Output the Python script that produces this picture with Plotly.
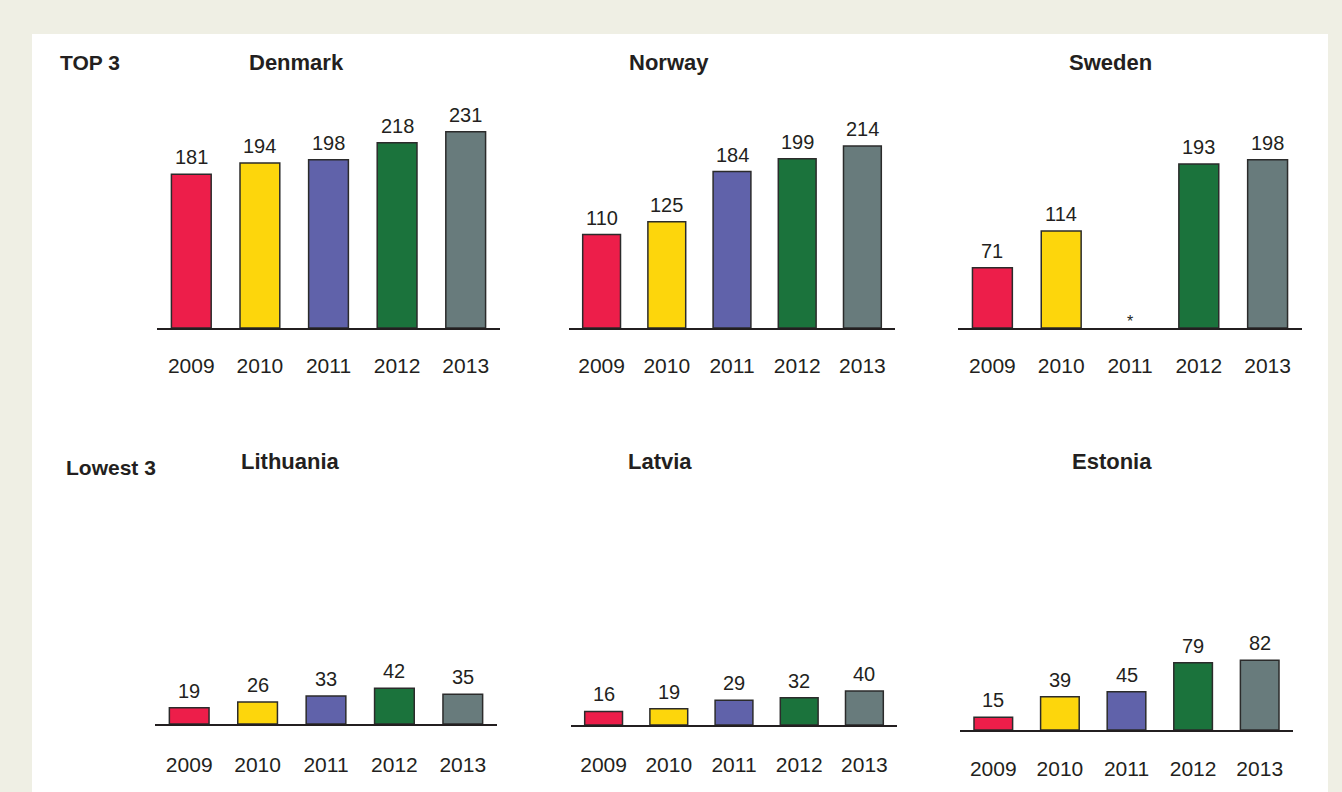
import plotly.graph_objects as go

W, H = 1342, 792

years = ["2009", "2010", "2011", "2012", "2013"]
colors = ["#ED1E4A", "#FDD60C", "#6062AA", "#1B733C", "#687B7C"]

countries = ["Denmark", "Norway", "Sweden", "Lithuania", "Latvia", "Estonia"]
denmark = [181, 194, 198, 218, 231]
norway = [110, 125, 184, 199, 214]
sweden = [71, 114, None, 193, 198]
lithuania = [19, 26, 33, 42, 35]
latvia = [16, 19, 29, 32, 40]
estonia = [15, 39, 45, 79, 82]
values = [denmark, norway, sweden, lithuania, latvia, estonia]

# pixel layout of each panel: x-axis start/end, baseline y, tick label gap
panels = [
    (157, 500, 328, 18), (569, 895, 328, 18), (958, 1302, 328, 18),
    (155, 497, 724, 21), (571, 897, 725, 20), (960, 1293, 730, 19),
]
px_per_unit = 0.85
y_max = 250
title_pos = [(296, 62), (669, 62), (1110, 62), (290, 461), (660, 461), (1112, 461)]

INK = "#231F20"
FONT = "Liberation Sans, Arial, sans-serif"


def fx(p):
    return p / W


def fy(p):
    return 1 - p / H


fig = go.Figure()
layout = {}
for i, (name, vals) in enumerate(zip(countries, values)):
    n = "" if i == 0 else str(i + 1)
    x0, x1, base, gap = panels[i]
    top = base - y_max * px_per_unit
    fig.add_trace(go.Bar(
        x=years, y=vals, xaxis="x" + n, yaxis="y" + n,
        marker=dict(color=colors, line=dict(color="#2B2B2B", width=1.5)),
        width=0.58, hoverinfo="x+y", showlegend=False,
    ))
    # value labels (category axis: annotation x is the category index)
    for j, v in enumerate(vals):
        if v is None:
            continue
        fig.add_annotation(x=j, y=v, xref="x" + n, yref="y" + n, text=str(v),
                           showarrow=False, yanchor="bottom", yshift=4,
                           font=dict(size=20, color=INK, family=FONT))
    layout["xaxis" + n] = dict(
        domain=[fx(x0), fx(x1)], anchor="y" + n, type="category",
        range=[-0.5, 4.5], showline=True, linecolor=INK, linewidth=1.5,
        showgrid=False, zeroline=False, ticks="outside", ticklen=gap,
        tickcolor="rgba(0,0,0,0)", tickfont=dict(size=21, color=INK, family=FONT),
        fixedrange=True,
    )
    layout["yaxis" + n] = dict(
        domain=[fy(base), fy(top)], anchor="x" + n, range=[0, y_max],
        visible=False, fixedrange=True,
    )
    fig.add_annotation(
        x=fx(title_pos[i][0]), y=fy(title_pos[i][1]), xref="paper", yref="paper",
        text=f"<b>{name}</b>", showarrow=False, xanchor="center", yanchor="middle",
        font=dict(size=22, color=INK, family=FONT),
    )

# missing 2011 value for Sweden
fig.add_annotation(x=2, y=0, xref="x3", yref="y3", text="*", showarrow=False,
                   yanchor="bottom", yshift=-4, font=dict(size=16, color=INK, family=FONT))

fig.add_annotation(x=fx(58), y=fy(62), xref="paper", yref="paper", text="<b>TOP 3</b>",
                   showarrow=False, xanchor="left", yanchor="middle",
                   font=dict(size=21, color=INK, family=FONT))
fig.add_annotation(x=fx(64), y=fy(467), xref="paper", yref="paper", text="<b>Lowest 3</b>",
                   showarrow=False, xanchor="left", yanchor="middle",
                   font=dict(size=21, color=INK, family=FONT))

fig.update_layout(
    **layout,
    width=W, height=H, margin=dict(l=0, r=0, t=0, b=0),
    paper_bgcolor="#EFEFE4", plot_bgcolor="rgba(0,0,0,0)",
    shapes=[dict(type="rect", xref="paper", yref="paper", x0=fx(32), x1=fx(1328),
                 y0=0, y1=fy(34), fillcolor="white", line=dict(width=0), layer="below")],
    font=dict(family=FONT, color=INK),
)

# drop the default page margin so the figure sits at the window corner
fig.write_html("out.html", config={"displayModeBar": False},
               post_script="document.body.style.margin='0';")
